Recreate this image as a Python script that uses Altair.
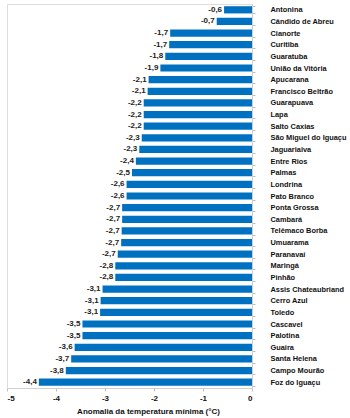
import altair as alt
import pandas as pd

cities = ["Antonina", "Cândido de Abreu", "Cianorte", "Curitiba", "Guaratuba",
          "União da Vitória", "Apucarana", "Francisco Beltrão", "Guarapuava", "Lapa",
          "Salto Caxias", "São Miguel do Iguaçu", "Jaguariaiva", "Entre Rios", "Palmas",
          "Londrina", "Pato Branco", "Ponta Grossa", "Cambará", "Telêmaco Borba",
          "Umuarama", "Paranavaí", "Maringá", "Pinhão", "Assis Chateaubriand",
          "Cerro Azul", "Toledo", "Cascavel", "Palotina", "Guaira", "Santa Helena",
          "Campo Mourão", "Foz do Iguaçu"]
values = [-0.57, -0.72, -1.67, -1.69, -1.77, -1.87, -2.11, -2.13, -2.21, -2.21,
          -2.21, -2.25, -2.30, -2.37, -2.45, -2.56, -2.56, -2.65, -2.65, -2.66,
          -2.67, -2.74, -2.79, -2.79, -3.05, -3.09, -3.10, -3.46, -3.46, -3.62,
          -3.69, -3.80, -4.35]
labels = ["-0,6", "-0,7", "-1,7", "-1,7", "-1,8", "-1,9", "-2,1", "-2,1", "-2,2", "-2,2",
          "-2,2", "-2,3", "-2,3", "-2,4", "-2,5", "-2,6", "-2,6", "-2,7", "-2,7", "-2,7",
          "-2,7", "-2,7", "-2,8", "-2,8", "-3,1", "-3,1", "-3,1", "-3,5", "-3,5", "-3,6",
          "-3,7", "-3,8", "-4,4"]
x_ticks = [-5, -4, -3, -2, -1, 0]

df = pd.DataFrame({"city": cities, "value": values, "label": labels})

FONT = "Liberation Sans"

y_enc = alt.Y("city:N", sort=cities,
              scale=alt.Scale(paddingInner=0.38, paddingOuter=0.19),
              axis=alt.Axis(orient="right", title=None, tickBand="extent",
                            tickSize=3, tickColor="#bfbfbf", domainColor="#d0d0d0",
                            labelPadding=15, labelFont=FONT, labelFontSize=7.4,
                            labelFontWeight="bold", labelColor="#111111",
                            labelAlign="left"))
x_enc = alt.X("value:Q", scale=alt.Scale(domain=[-5, 0], nice=False),
              axis=alt.Axis(values=x_ticks, title="Anomalia da temperatura mínima (°C)",
                            labelExpr="datum.value + ''", grid=False,
                            tickSize=3, tickColor="#bfbfbf", domainColor="#d0d0d0",
                            labelPadding=3, labelFont=FONT, labelFontSize=8,
                            labelFontWeight="bold", labelColor="#111111",
                            titleFont=FONT, titleFontSize=8, titleFontWeight="bold",
                            titleColor="#111111", titleX=141, titleY=23,
                            titleBaseline="middle", titleAnchor="middle"))

base = alt.Chart(df)
bars = base.mark_bar(color="#0070C0").encode(x=x_enc, y=y_enc)
text = base.mark_text(align="right", baseline="middle", dx=-2, font=FONT,
                      fontSize=8, fontWeight="bold", color="#222222").encode(
    x="value:Q", y=alt.Y("city:N", sort=cities), text="label:N")

chart = (bars + text).properties(
    width=245, height=384,
    autosize=alt.AutoSizeParams(type="none"),
    padding={"left": 7, "top": 4, "right": 98, "bottom": 30},
).configure_view(stroke=None).configure(background="white")

chart.save("out.html", embed_options={"renderer": "svg", "actions": False})
